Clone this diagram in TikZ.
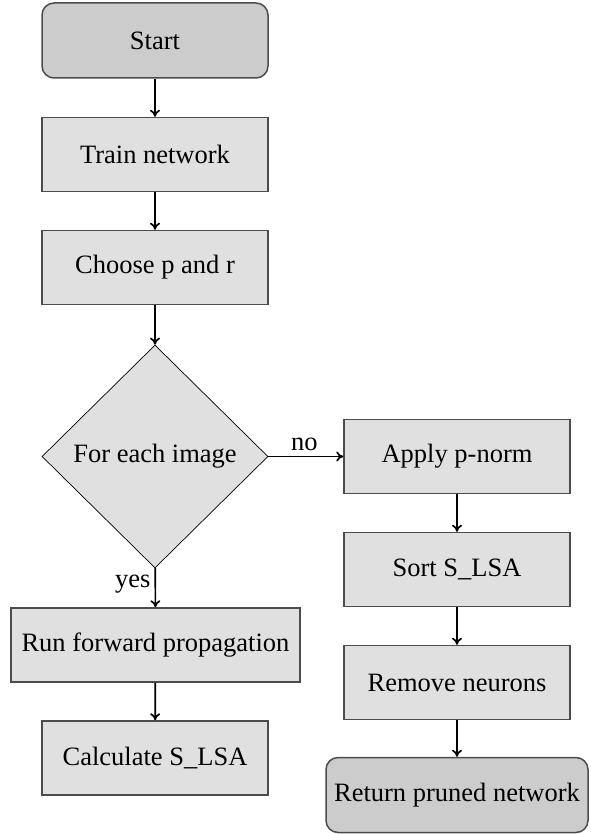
\documentclass[tikz,border=0pt]{standalone}
\usepackage{fontspec}
\setmainfont{Liberation Serif}
\usetikzlibrary{shapes.geometric,arrows.meta}
\begin{document}
\begin{tikzpicture}[x=1pt,y=-1pt,
  font=\fontsize{26.5}{30}\selectfont,
  procbox/.style={draw=black!70, line width=1.5pt, fill=black!12, minimum width=226pt, minimum height=74pt, inner sep=0pt},
  termbox/.style={draw=black!70, line width=1.5pt, fill=black!20, rounded corners=12pt, minimum width=226pt, minimum height=75pt, inner sep=0pt},
  decbox/.style={draw=black, line width=0.7pt, fill=black!12, diamond, aspect=1, minimum width=226pt, minimum height=223pt, inner sep=0pt},
  conn/.style={-{To[length=7pt,width=10pt]}, line width=1.7pt}]
\useasboundingbox (0,0) rectangle (590,834);
\node[termbox] (start) at (155,40.5) {Start};
\node[procbox] (train) at (155,154.5) {Train network};
\node[procbox] (choose) at (155,267.5) {Choose p and r};
\node[decbox] (each) at (155,456.5) {For each image};
\node[procbox, minimum width=289pt] (run) at (155.5,645) {Run forward propagation};
\node[procbox] (calc) at (155,758) {Calculate S\_LSA};
\node[procbox] (apply) at (457,456.5) {Apply p-norm};
\node[procbox] (sort) at (457,569.5) {Sort S\_LSA};
\node[procbox] (remove) at (457,682.5) {Remove neurons};
\node[termbox, minimum width=262pt] (ret) at (457,795) {Return pruned network};
\draw[conn] (start) -- (train);
\draw[conn] (train) -- (choose);
\draw[conn] (choose) -- (each);
\draw[conn] (each) -- node[anchor=east, inner sep=4pt, pos=0.4] {yes} (run);
\draw[conn] (run) -- (calc);
\draw[conn] (each) -- node[anchor=south, inner sep=5pt, pos=0.48] {no} (apply);
\draw[conn] (apply) -- (sort);
\draw[conn] (sort) -- (remove);
\draw[conn] (remove) -- (ret);
\end{tikzpicture}
\end{document}
